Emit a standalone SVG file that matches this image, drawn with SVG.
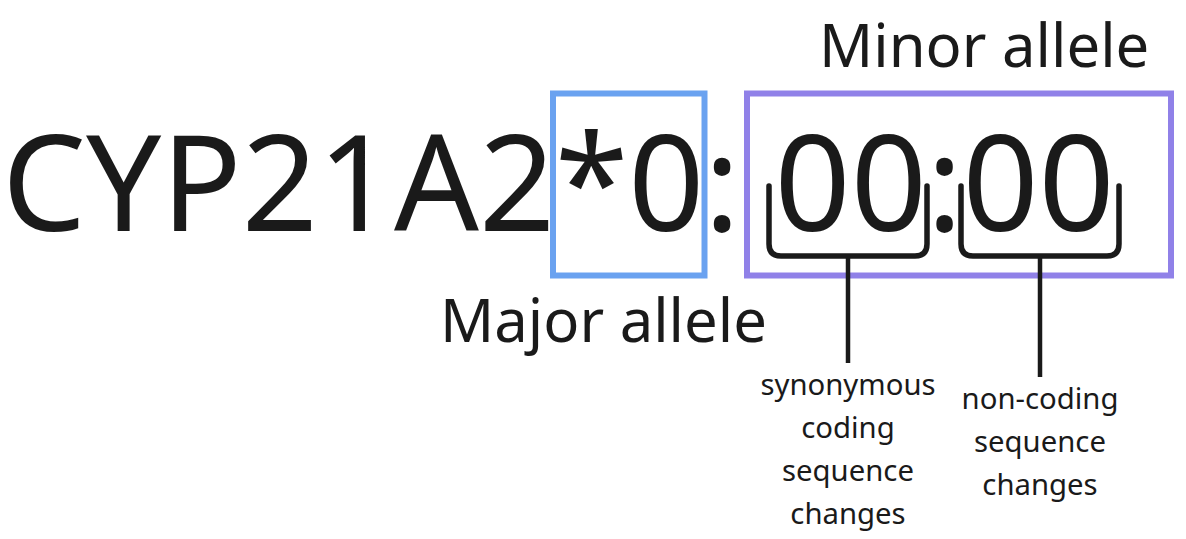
<svg xmlns="http://www.w3.org/2000/svg" width="1186" height="539" viewBox="0 0 1186 539">
<style>
text{font-family:"Noto Sans","Open Sans","DejaVu Sans",sans-serif;fill:#1a1a1a}
.big{font-size:133px}
.lab{font-size:59.8px}
.small{font-size:29.3px;text-anchor:middle}
.box{fill:none;stroke-width:6}
.brace{fill:none;stroke:#1a1a1a;stroke-width:5.5;stroke-linecap:round;stroke-linejoin:round}
.stem{fill:none;stroke:#1a1a1a;stroke-width:4.5}
</style>
<rect width="1186" height="539" fill="#ffffff"/>
<g id="major-box">
<rect class="box" x="553" y="93.5" width="151.5" height="182" stroke="#6aa2f0"/>
<text class="lab" x="440" y="342">Major allele</text>
</g>
<g id="minor-box">
<rect class="box" x="747" y="93.5" width="424" height="182" stroke="#9081e8"/>
<text class="lab" x="819" y="67">Minor allele</text>
</g>
<g id="allele-name">
<text class="big" x="2" y="231">CYP21A2*0: 00:00</text>
</g>
<g id="connectors">
<path class="brace" d="M769,186 V244 Q769,256 781,256 H915 Q927,256 927,244 V186"/>
<path class="brace" d="M961,186 V244 Q961,256 973,256 H1107 Q1119,256 1119,244 V186"/>
<line class="stem" x1="848" y1="256" x2="848" y2="363"/>
<line class="stem" x1="1040" y1="256" x2="1040" y2="377"/>
</g>
<g id="synonymous-label">
<text class="small" x="848" y="395">synonymous</text>
<text class="small" x="848" y="438">coding</text>
<text class="small" x="848" y="481">sequence</text>
<text class="small" x="848" y="524">changes</text>
</g>
<g id="noncoding-label">
<text class="small" x="1040" y="409">non-coding</text>
<text class="small" x="1040" y="452">sequence</text>
<text class="small" x="1040" y="495">changes</text>
</g>
</svg>
